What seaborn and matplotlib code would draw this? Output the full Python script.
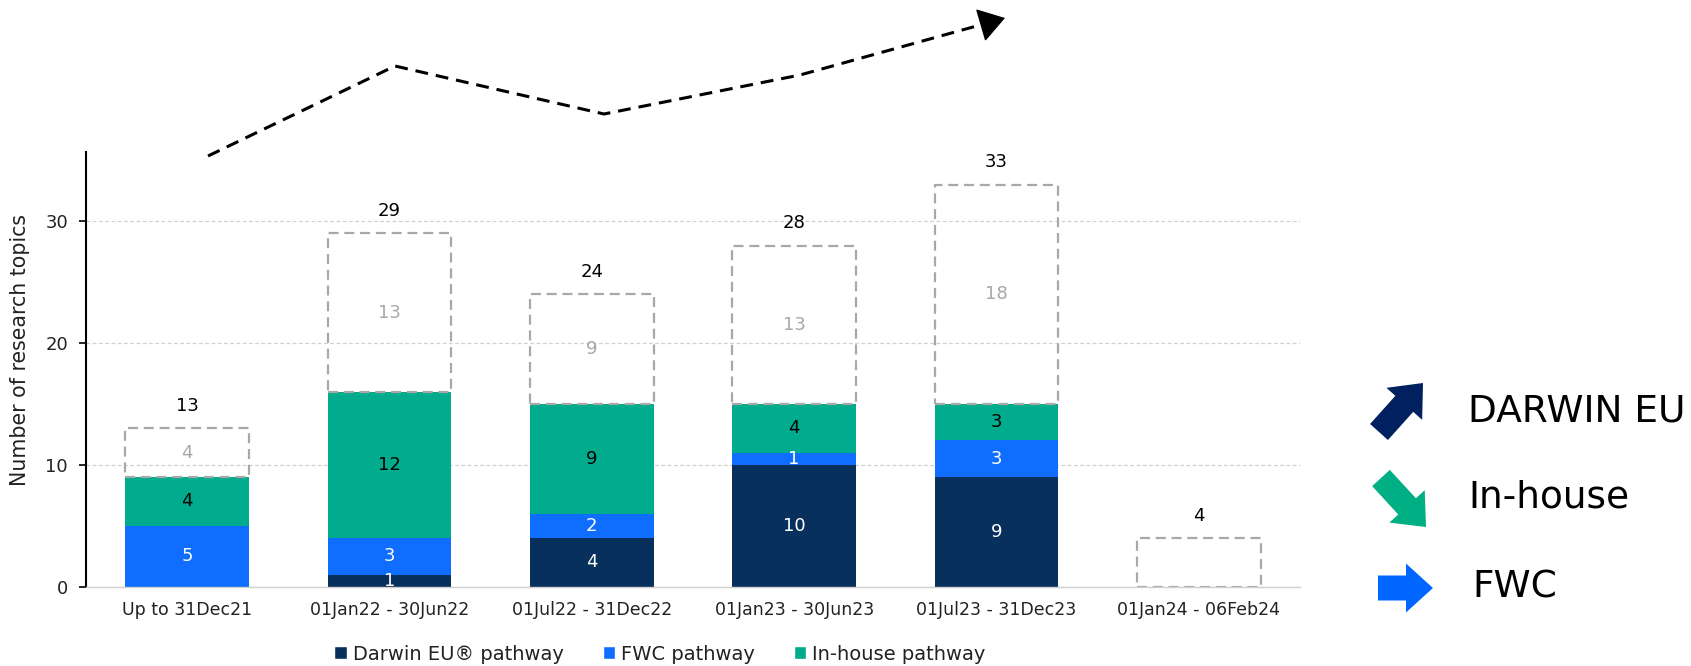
import matplotlib
matplotlib.use("Agg")
import matplotlib.pyplot as plt
import seaborn as sns
import numpy as np
from matplotlib.patches import Patch, FancyArrow

sns.set_theme(style="white")
plt.rcParams['font.family'] = ['DejaVu Sans']

categories = ["Up to 31Dec21", "01Jan22 - 30Jun22", "01Jul22 - 31Dec22",
              "01Jan23 - 30Jun23", "01Jul23 - 31Dec23", "01Jan24 - 06Feb24"]
darwin = [0, 1, 4, 10, 9, 0]
fwc = [5, 3, 2, 1, 3, 0]
inhouse = [4, 12, 9, 4, 3, 0]
other = [4, 13, 9, 13, 18, 4]
totals = [13, 29, 24, 28, 33, 4]
other_labels = ["4", "13", "9", "13", "18", ""]
yticks = [0, 10, 20, 30]

# decorative trend arrow (figure pixels)
trend_pts = [(208, 156), (395, 66), (604, 114), (800, 75), (1005, 18)]

C_DARWIN = "#08305C"
C_FWC = "#0F6EFF"
C_INH = "#00AB8E"
C_GRAY = "#A8A8A8"
DASH = (0, (4.5, 2.6))

fig = plt.figure(figsize=(16.91, 6.66), dpi=100)
ax = fig.add_axes([86 / 1691, 1 - 586.7 / 666, (1300 - 86) / 1691, (586.7 - 151.7) / 666])

bw = 0.61
b1 = np.array(darwin)
b2 = b1 + np.array(fwc)
b3 = b2 + np.array(inhouse)

sns.barplot(x=categories, y=darwin, color=C_DARWIN, width=bw, ax=ax, saturation=1, linewidth=0)
sns.barplot(x=categories, y=fwc, bottom=b1, color=C_FWC, width=bw, ax=ax, saturation=1, linewidth=0)
sns.barplot(x=categories, y=inhouse, bottom=b2, color=C_INH, width=bw, ax=ax, saturation=1, linewidth=0)
sns.barplot(x=categories, y=other, bottom=b3, color=C_GRAY, width=bw, ax=ax, saturation=1,
            fill=False, linewidth=1.6, linestyle=DASH)

cont = ax.containers
for p in cont[3]:
    p.set_edgecolor(C_GRAY)
    p.set_facecolor("none")
    p.set_linestyle(DASH)
    p.set_linewidth(1.6)

fs = 13
ax.bar_label(cont[0], labels=[str(v) if v > 0 else "" for v in darwin], label_type="center",
             color="white", fontsize=fs)
ax.bar_label(cont[1], labels=[str(v) if v > 0 else "" for v in fwc], label_type="center",
             color="white", fontsize=fs)
ax.bar_label(cont[2], labels=[str(v) if v > 0 else "" for v in inhouse], label_type="center",
             color="black", fontsize=fs)
ax.bar_label(cont[3], labels=other_labels, label_type="center", color=C_GRAY, fontsize=fs)
for i, t in enumerate(totals):
    ax.annotate(str(t), (i, t), xytext=(0, 16), textcoords="offset points",
                ha="center", va="center", fontsize=fs, color="black")

ax.set_xlim(-0.5, 5.5)
ax.set_ylim(0, 35.7)
ax.set_yticks(yticks)
ax.yaxis.grid(True, linestyle=(0, (3, 2)), color="#D0D0D0", linewidth=0.9)
ax.set_axisbelow(True)
for s in ["top", "right"]:
    ax.spines[s].set_visible(False)
ax.spines["left"].set_color("black")
ax.spines["left"].set_linewidth(1.5)
ax.spines["bottom"].set_color("#D0D0D0")
ax.spines["bottom"].set_linewidth(1.0)
ax.tick_params(axis="y", which="both", left=True, length=5, width=1.2, color="black",
               labelsize=13, pad=8, labelcolor="#222222")
ax.tick_params(axis="x", length=0, labelsize=12.5, pad=10, labelcolor="#222222")
ax.set_ylabel("Number of research topics", fontsize=14.8, color="#222222")
ax.yaxis.set_label_coords(-0.046, 0.544)

handles = [Patch(facecolor=C_DARWIN), Patch(facecolor=C_FWC), Patch(facecolor=C_INH)]
fig.legend(handles, ["Darwin EU® pathway", "FWC pathway", "In-house pathway"],
           loc="center", bbox_to_anchor=(660 / 1691, 1 - 654 / 666), ncol=3, frameon=False,
           fontsize=14, handlelength=0.65, handleheight=0.65, handletextpad=0.3,
           columnspacing=2.0, labelcolor="#222222")

# overlay in pixel coords
ov = fig.add_axes([0, 0, 1, 1], zorder=10)
ov.set_xlim(0, 1691)
ov.set_ylim(666, 0)
ov.axis("off")
ov.patch.set_alpha(0)

xs = [p[0] for p in trend_pts]
ys = [p[1] for p in trend_pts]
ov.plot(xs[:-1] + [xs[-1] - 10], ys[:-1] + [ys[-1] + 2.9], color="black", lw=2.2,
        linestyle=(0, (4.2, 2.6)))
ov.annotate("", xy=trend_pts[-1], xytext=(xs[-1] - 12, ys[-1] + 3.5),
            arrowprops=dict(arrowstyle="-|>,head_length=1.3,head_width=0.85", color="black",
                            lw=1.0, mutation_scale=13, shrinkA=0, shrinkB=0))

ov.add_patch(FancyArrow(1379, 432, 44, -49, width=24, head_width=48, head_length=28,
                        length_includes_head=True, color="#002060", lw=0))
ov.add_patch(FancyArrow(1381, 478, 45, 49, width=24, head_width=48, head_length=28,
                        length_includes_head=True, color="#00B084", lw=0))
ov.add_patch(FancyArrow(1378, 588, 55, 0, width=25, head_width=49, head_length=27,
                        length_includes_head=True, color="#0066FF", lw=0))
ov.text(1468, 412, "DARWIN EU", fontsize=27, va="center", ha="left", color="black")
ov.text(1468, 498, "In-house", fontsize=27, va="center", ha="left", color="black")
ov.text(1472, 588, "FWC", fontsize=27, va="center", ha="left", color="black")

fig.savefig("out.png", dpi=100)
